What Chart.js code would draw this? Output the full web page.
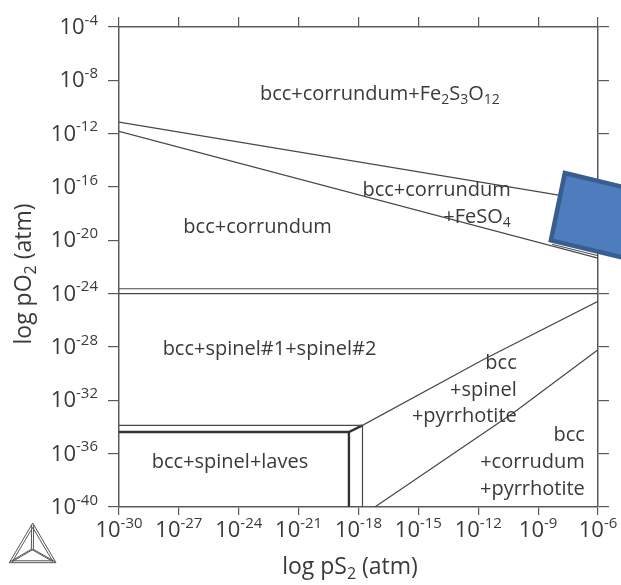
<!DOCTYPE html>
<html>
<head>
<meta charset="utf-8">
<script src="https://cdn.jsdelivr.net/npm/chart.js@4.4.1/dist/chart.umd.min.js"></script>
<style>
  html, body { margin: 0; padding: 0; background: #fff; }
  #wrap { width: 621px; height: 585px; }
</style>
</head>
<body>
<div id="wrap"><canvas id="chart" width="621" height="585"></canvas></div>
<script>
// axes are in log10 units: x = log pS2, y = log pO2 (atm)
const xTicks = [-30, -27, -24, -21, -18, -15, -12, -9, -6];
const yTicks = [-4, -8, -12, -16, -20, -24, -28, -32, -36, -40];
const xRange = [-30, -6];
const yRange = [-40, -4];

// phase boundaries as [log pS2, log pO2] points
const fe2s3o12Line = [[-30, -11.13], [-6, -17.1]];
const feso4Line = [[-30, -11.83], [-6, -21.33]];
const feso4Tail = [[-8.3, -20.3], [-6, -21.15]];
const corundumUpper = [[-30, -23.63], [-6, -23.63]];
const corundumLower = [[-30, -24.0], [-6, -24.0]];
const spinelPyrrhotite = [[-30, -33.88], [-17.8, -33.88], [-11.76, -28.95], [-6, -24.58]];
const lavesTop = [[-30, -34.38], [-18.48, -34.38], [-17.8, -33.88]];
const lavesEdge = [[-18.48, -34.38], [-18.48, -40]];
const spinelEdge = [[-17.8, -33.88], [-17.8, -40]];
const pyrrhotiteLine = [[-17.18, -40], [-10.25, -32.95], [-6, -28.2]];

// region names and where they sit (log pS2, log pO2 of the first baseline)
const regionNames = [
  ['bcc+corrundum+Fe_{2}S_{3}O_{12}'],
  ['bcc+corrundum'],
  ['bcc+corrundum', '+FeSO_{4}'],
  ['bcc+spinel#1+spinel#2'],
  ['bcc+spinel+laves'],
  ['bcc', '+spinel', '+pyrrhotite'],
  ['bcc', '+corrudum', '+pyrrhotite']
];
const regionAnchors = [[-16.93, -9.45], [-23.06, -19.45], [-10.37, -16.7], [-22.46, -28.58],
  [-24.44, -37.08], [-10.07, -29.65], [-6.66, -35.08]];
const regionAlign = ['center', 'center', 'right', 'center', 'center', 'right', 'right'];

// blue marker box laid over the right edge
const markerBox = [[-7.66, -14.95], [-8.36, -20.0], [-3.4, -21.78], [-3.4, -16.48]];

const FONT = '"Open Sans", "Liberation Sans", sans-serif';
const TEXT = '#3a3a3a';
const LINE = '#474747';
const AXIS = '#5a5a5a';

const toPts = arr => arr.map(([x, y]) => ({ x, y }));
const boundary = (pts, width, color) => ({
  data: toPts(pts),
  showLine: true,
  borderColor: color || LINE,
  borderWidth: width || 1.2,
  pointRadius: 0,
  fill: false,
  tension: 0
});

function parseRich(str) {
  const segs = [];
  const re = /(_|\^)\{([^}]*)\}/g;
  let last = 0, m;
  while ((m = re.exec(str))) {
    if (m.index > last) segs.push({ t: str.slice(last, m.index), k: 'n' });
    segs.push({ t: m[2], k: m[1] === '_' ? 'sub' : 'sup' });
    last = re.lastIndex;
  }
  if (last < str.length) segs.push({ t: str.slice(last), k: 'n' });
  return segs;
}

function drawRich(ctx, str, x, y, align, size) {
  const segs = parseRich(str);
  const small = Math.round(size * 0.68);
  let total = 0;
  segs.forEach(s => {
    ctx.font = `${s.k === 'n' ? size : small}px ${FONT}`;
    s.w = ctx.measureText(s.t).width;
    total += s.w;
  });
  let cx = align === 'center' ? x - total / 2 : align === 'right' ? x - total : x;
  segs.forEach(s => {
    ctx.font = `${s.k === 'n' ? size : small}px ${FONT}`;
    const dy = s.k === 'sub' ? size * 0.2 : s.k === 'sup' ? -size * 0.42 : 0;
    ctx.fillText(s.t, cx, y + dy);
    cx += s.w;
  });
  return total;
}

// "10" with a raised exponent
function powerLabel(ctx, exp, x, y, align) {
  ctx.font = `22px ${FONT}`;
  const w1 = ctx.measureText('10').width;
  ctx.font = `15px ${FONT}`;
  const w2 = ctx.measureText(String(exp)).width;
  let left = align === 'right' ? x - w1 - w2 : x - (w1 + w2) / 2;
  ctx.font = `22px ${FONT}`;
  ctx.fillText('10', left, y);
  ctx.font = `15px ${FONT}`;
  ctx.fillText(String(exp), left + w1, y - 9.5);
}

const annotations = {
  id: 'annotations',
  afterDraw(chart) {
    const { ctx, chartArea } = chart;
    const xs = chart.scales.x, ys = chart.scales.y;
    ctx.save();
    ctx.fillStyle = TEXT;
    ctx.textBaseline = 'alphabetic';
    ctx.textAlign = 'left';

    // tick labels
    xTicks.forEach(v => powerLabel(ctx, v, xs.getPixelForValue(v), chartArea.bottom + 30, 'center'));
    yTicks.forEach(v => powerLabel(ctx, v, 98, ys.getPixelForValue(v) + 7, 'right'));

    // axis titles
    drawRich(ctx, 'log pS_{2} (atm)', 350, 574, 'center', 23);
    ctx.save();
    ctx.translate(31, 274);
    ctx.rotate(-Math.PI / 2);
    drawRich(ctx, 'log pO_{2} (atm)', 0, 0, 'center', 23);
    ctx.restore();

    // region names
    regionNames.forEach((lines, i) => {
      const px = xs.getPixelForValue(regionAnchors[i][0]);
      const py = ys.getPixelForValue(regionAnchors[i][1]);
      lines.forEach((s, j) => drawRich(ctx, s, px, py + j * 26.7, regionAlign[i], 20));
    });

    // marker box
    ctx.beginPath();
    markerBox.forEach(([x, y], i) => {
      const px = xs.getPixelForValue(x), py = ys.getPixelForValue(y);
      i ? ctx.lineTo(px, py) : ctx.moveTo(px, py);
    });
    ctx.closePath();
    ctx.fillStyle = '#4e7dbd';
    ctx.fill();
    ctx.lineWidth = 4.5;
    ctx.strokeStyle = '#385e8f';
    ctx.lineJoin = 'miter';
    ctx.stroke();

    // program logo, bottom-left corner
    const tri = (ax, ay, bx, by, cx2, cy2) => {
      ctx.beginPath();
      ctx.moveTo(ax, ay); ctx.lineTo(bx, by); ctx.lineTo(cx2, cy2); ctx.closePath(); ctx.stroke();
    };
    ctx.strokeStyle = '#555';
    ctx.lineWidth = 1;
    tri(32.7, 523, 9.3, 562.7, 56, 562.7);
    tri(32.7, 527.5, 12.8, 560.8, 52.5, 560.8);
    const c = [32.3, 549.3];
    [[32.7, 525], [11, 561.8], [54.3, 561.8]].forEach(([vx, vy]) => {
      ctx.beginPath();
      ctx.moveTo(c[0] - 1, c[1]); ctx.lineTo(vx - 1, vy);
      ctx.moveTo(c[0] + 1, c[1]); ctx.lineTo(vx + 1, vy);
      ctx.stroke();
    });
    ctx.restore();
  }
};

const axisGrid = len => ({
  drawOnChartArea: false,
  drawTicks: true,
  tickLength: len,
  color: AXIS,
  lineWidth: 1.2
});
const axisBorder = { display: true, color: AXIS, width: 1.5 };

const ctx = document.getElementById('chart').getContext('2d');
new Chart(ctx, {
  type: 'scatter',
  data: {
    datasets: [
      boundary(fe2s3o12Line),
      boundary(feso4Line),
      boundary(feso4Tail, 1),
      boundary(corundumUpper),
      boundary(corundumLower),
      boundary(spinelPyrrhotite),
      boundary(lavesTop, 2.4, '#333'),
      boundary(lavesEdge, 2.4, '#333'),
      boundary(spinelEdge),
      boundary(pyrrhotiteLine)
    ]
  },
  options: {
    responsive: false,
    animation: false,
    layout: { padding: 0 },
    plugins: { legend: { display: false }, tooltip: { enabled: false } },
    scales: {
      x: {
        type: 'linear', position: 'bottom', min: xRange[0], max: xRange[1],
        afterBuildTicks: s => { s.ticks = xTicks.map(v => ({ value: v })); },
        afterFit: s => { s.height = 78; },
        ticks: { display: false },
        grid: axisGrid(8), border: axisBorder
      },
      x2: {
        type: 'linear', position: 'top', min: xRange[0], max: xRange[1],
        afterBuildTicks: s => { s.ticks = xTicks.map(v => ({ value: v })); },
        afterFit: s => { s.height = 27; },
        ticks: { display: false },
        grid: axisGrid(10), border: axisBorder
      },
      y: {
        type: 'linear', position: 'left', min: yRange[0], max: yRange[1],
        afterBuildTicks: s => { s.ticks = yTicks.map(v => ({ value: v })); },
        afterFit: s => { s.width = 119; },
        ticks: { display: false },
        grid: axisGrid(11), border: axisBorder
      },
      y2: {
        type: 'linear', position: 'right', min: yRange[0], max: yRange[1],
        afterBuildTicks: s => { s.ticks = yTicks.map(v => ({ value: v })); },
        afterFit: s => { s.width = 23; },
        ticks: { display: false },
        grid: axisGrid(11), border: axisBorder
      }
    }
  },
  plugins: [annotations]
});
</script>
</body>
</html>
